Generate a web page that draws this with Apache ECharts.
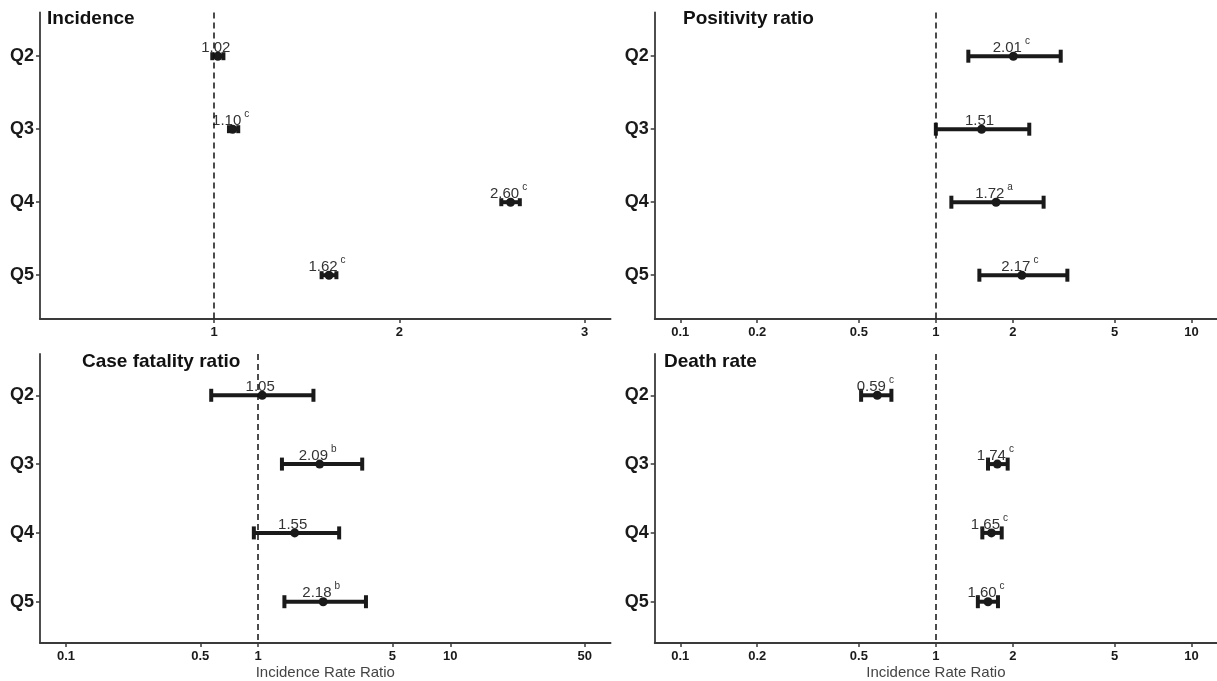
<!DOCTYPE html>
<html><head><meta charset="utf-8">
<script src="https://cdn.jsdelivr.net/npm/echarts@6/dist/echarts.min.js"></script>
<style>html,body{margin:0;padding:0;background:#fff}#c{width:1217px;height:681px}</style>
</head><body><div id="c"></div>
<script>
const categories = ['Q2', 'Q3', 'Q4', 'Q5'];
const incidenceEst = [1.02, 1.10, 2.60, 1.62];
const incidenceLow = [0.99, 1.08, 2.55, 1.58];
const incidenceHigh = [1.05, 1.13, 2.65, 1.66];
const incidenceSig = ['', 'c', 'c', 'c'];
const positivityEst = [2.01, 1.51, 1.72, 2.17];
const positivityLow = [1.34, 1.00, 1.15, 1.48];
const positivityHigh = [3.08, 2.32, 2.64, 3.27];
const positivitySig = ['c', '', 'a', 'c'];
const cfrEst = [1.05, 2.09, 1.55, 2.18];
const cfrLow = [0.57, 1.33, 0.95, 1.37];
const cfrHigh = [1.94, 3.48, 2.64, 3.64];
const cfrSig = ['', 'b', '', 'b'];
const deathEst = [0.59, 1.74, 1.65, 1.60];
const deathLow = [0.51, 1.60, 1.52, 1.46];
const deathHigh = [0.67, 1.91, 1.81, 1.75];
const deathSig = ['c', 'c', 'c', 'c'];
const incidenceTicks = [1, 2, 3];
const logTicksA = [0.1, 0.2, 0.5, 1, 2, 5, 10];
const logTicksB = [0.1, 0.5, 1, 5, 10, 50];
const panelTitles = ['Incidence', 'Positivity ratio', 'Case fatality ratio', 'Death rate'];
const xAxisTitle = 'Incidence Rate Ratio';

const FONT = 'Liberation Sans, Arial, Helvetica, sans-serif';
const INK = '#1a1a1a';
const AXIS = '#3a3a3a';
const lg = v => Math.log10(v);
const id = v => v;

const panels = [
  {est: incidenceEst, lo: incidenceLow, hi: incidenceHigh, sig: incidenceSig, f: id, min: 0.06, max: 3.14, ticks: incidenceTicks,
   grid: {left: 40, top: 12.4, width: 570.6, height: 306.6}, cap: 8, title: panelTitles[0], tl: 47, tt: 9, name: ''},
  {est: positivityEst, lo: positivityLow, hi: positivityHigh, sig: positivitySig, f: lg, min: -1.1, max: 1.1, ticks: logTicksA,
   grid: {left: 654.7, top: 12.4, width: 570.9, height: 306.6}, cap: 13, title: panelTitles[1], tl: 683, tt: 9, name: ''},
  {est: cfrEst, lo: cfrLow, hi: cfrHigh, sig: cfrSig, f: lg, min: -1.135, max: 1.834, ticks: logTicksB,
   grid: {left: 40, top: 354, width: 570.6, height: 290}, cap: 13, title: panelTitles[2], tl: 82, tt: 352, name: xAxisTitle},
  {est: deathEst, lo: deathLow, hi: deathHigh, sig: deathSig, f: lg, min: -1.1, max: 1.1, ticks: logTicksA,
   grid: {left: 654.7, top: 354, width: 570.9, height: 290}, cap: 13, title: panelTitles[3], tl: 664, tt: 352, name: xAxisTitle}
];

const option = {
  animation: false,
  backgroundColor: '#fff',
  textStyle: {fontFamily: FONT},
  title: panels.map(p => ({text: p.title, left: p.tl, top: p.tt, padding: 0,
    textStyle: {fontSize: 19, fontWeight: 'bold', color: '#111', fontFamily: FONT}})),
  grid: panels.map(p => p.grid),
  xAxis: panels.map((p, k) => {
    const tv = p.ticks.map(p.f);
    return {
      gridIndex: k, type: 'value', min: p.min, max: p.max,
      axisLine: {show: true, onZero: false, lineStyle: {color: AXIS, width: 1.8}},
      axisTick: {show: true, customValues: tv, length: 4, lineStyle: {color: AXIS, width: 1.5}},
      axisLabel: {customValues: tv, fontSize: 13, fontWeight: 'bold', color: INK, margin: 7, fontFamily: FONT,
        formatter: v => String(Number((p.f === lg ? Math.pow(10, v) : v).toPrecision(3)))},
      splitLine: {show: false},
      name: p.name, nameLocation: 'middle', nameGap: 22,
      nameTextStyle: {fontSize: 15, color: '#444', fontFamily: FONT}
    };
  }),
  yAxis: panels.map((p, k) => ({
    gridIndex: k, type: 'value', min: 1.4, max: 5.6, inverse: true,
    axisLine: {show: true, onZero: false, lineStyle: {color: AXIS, width: 1.8}},
    axisTick: {show: true, customValues: [2, 3, 4, 5], length: 4, lineStyle: {color: AXIS, width: 1.5}},
    axisLabel: {customValues: [2, 3, 4, 5], fontSize: 18, fontWeight: 'bold', color: INK, margin: 6, fontFamily: FONT,
      formatter: v => categories[Math.round(v) - 2]},
    splitLine: {show: false}
  })),
  series: []
};

panels.forEach((p, k) => {
  option.series.push({
    type: 'custom', xAxisIndex: k, yAxisIndex: k, z: 3,
    encode: {x: [0, 1], y: 2},
    data: categories.map((c, i) => [p.f(p.lo[i]), p.f(p.hi[i]), i + 2]),
    renderItem: (params, api) => {
      const y = api.value(2);
      const a = api.coord([api.value(0), y]);
      const b = api.coord([api.value(1), y]);
      const h = p.cap / 2;
      const st = {stroke: INK, lineWidth: 4};
      return {type: 'group', children: [
        {type: 'line', shape: {x1: a[0], y1: a[1], x2: b[0], y2: b[1]}, style: st},
        {type: 'line', shape: {x1: a[0], y1: a[1] - h, x2: a[0], y2: a[1] + h}, style: st},
        {type: 'line', shape: {x1: b[0], y1: b[1] - h, x2: b[0], y2: b[1] + h}, style: st}
      ]};
    }
  });
  option.series.push({
    type: 'scatter', xAxisIndex: k, yAxisIndex: k, z: 4,
    symbol: 'circle', symbolSize: 9,
    itemStyle: {color: INK, opacity: 1},
    data: categories.map((c, i) => [p.f(p.est[i]), i + 2]),
    label: {
      show: true, position: 'inside', offset: [-2, -10],
      formatter: prm => '{v|' + p.est[prm.dataIndex].toFixed(2) + '}' + (p.sig[prm.dataIndex] ? '{s|' + p.sig[prm.dataIndex] + '}' : ''),
      rich: {
        v: {fontSize: 15, lineHeight: 16, padding: [3, 0, 0, 0], color: '#333', fontFamily: FONT},
        s: {fontSize: 10, lineHeight: 9, padding: [0, 0, 10, 3], color: '#333', fontFamily: FONT}
      }
    },
    emphasis: {disabled: true},
    markLine: {
      silent: true, symbol: ['none', 'none'], animation: false,
      label: {show: false},
      lineStyle: {type: [6, 4], color: '#111', width: 1.5},
      data: [{xAxis: p.f(1)}]
    }
  });
});

const chart = echarts.init(document.getElementById('c'), null, {renderer: 'canvas'});
chart.setOption(option);
</script>
</body></html>
